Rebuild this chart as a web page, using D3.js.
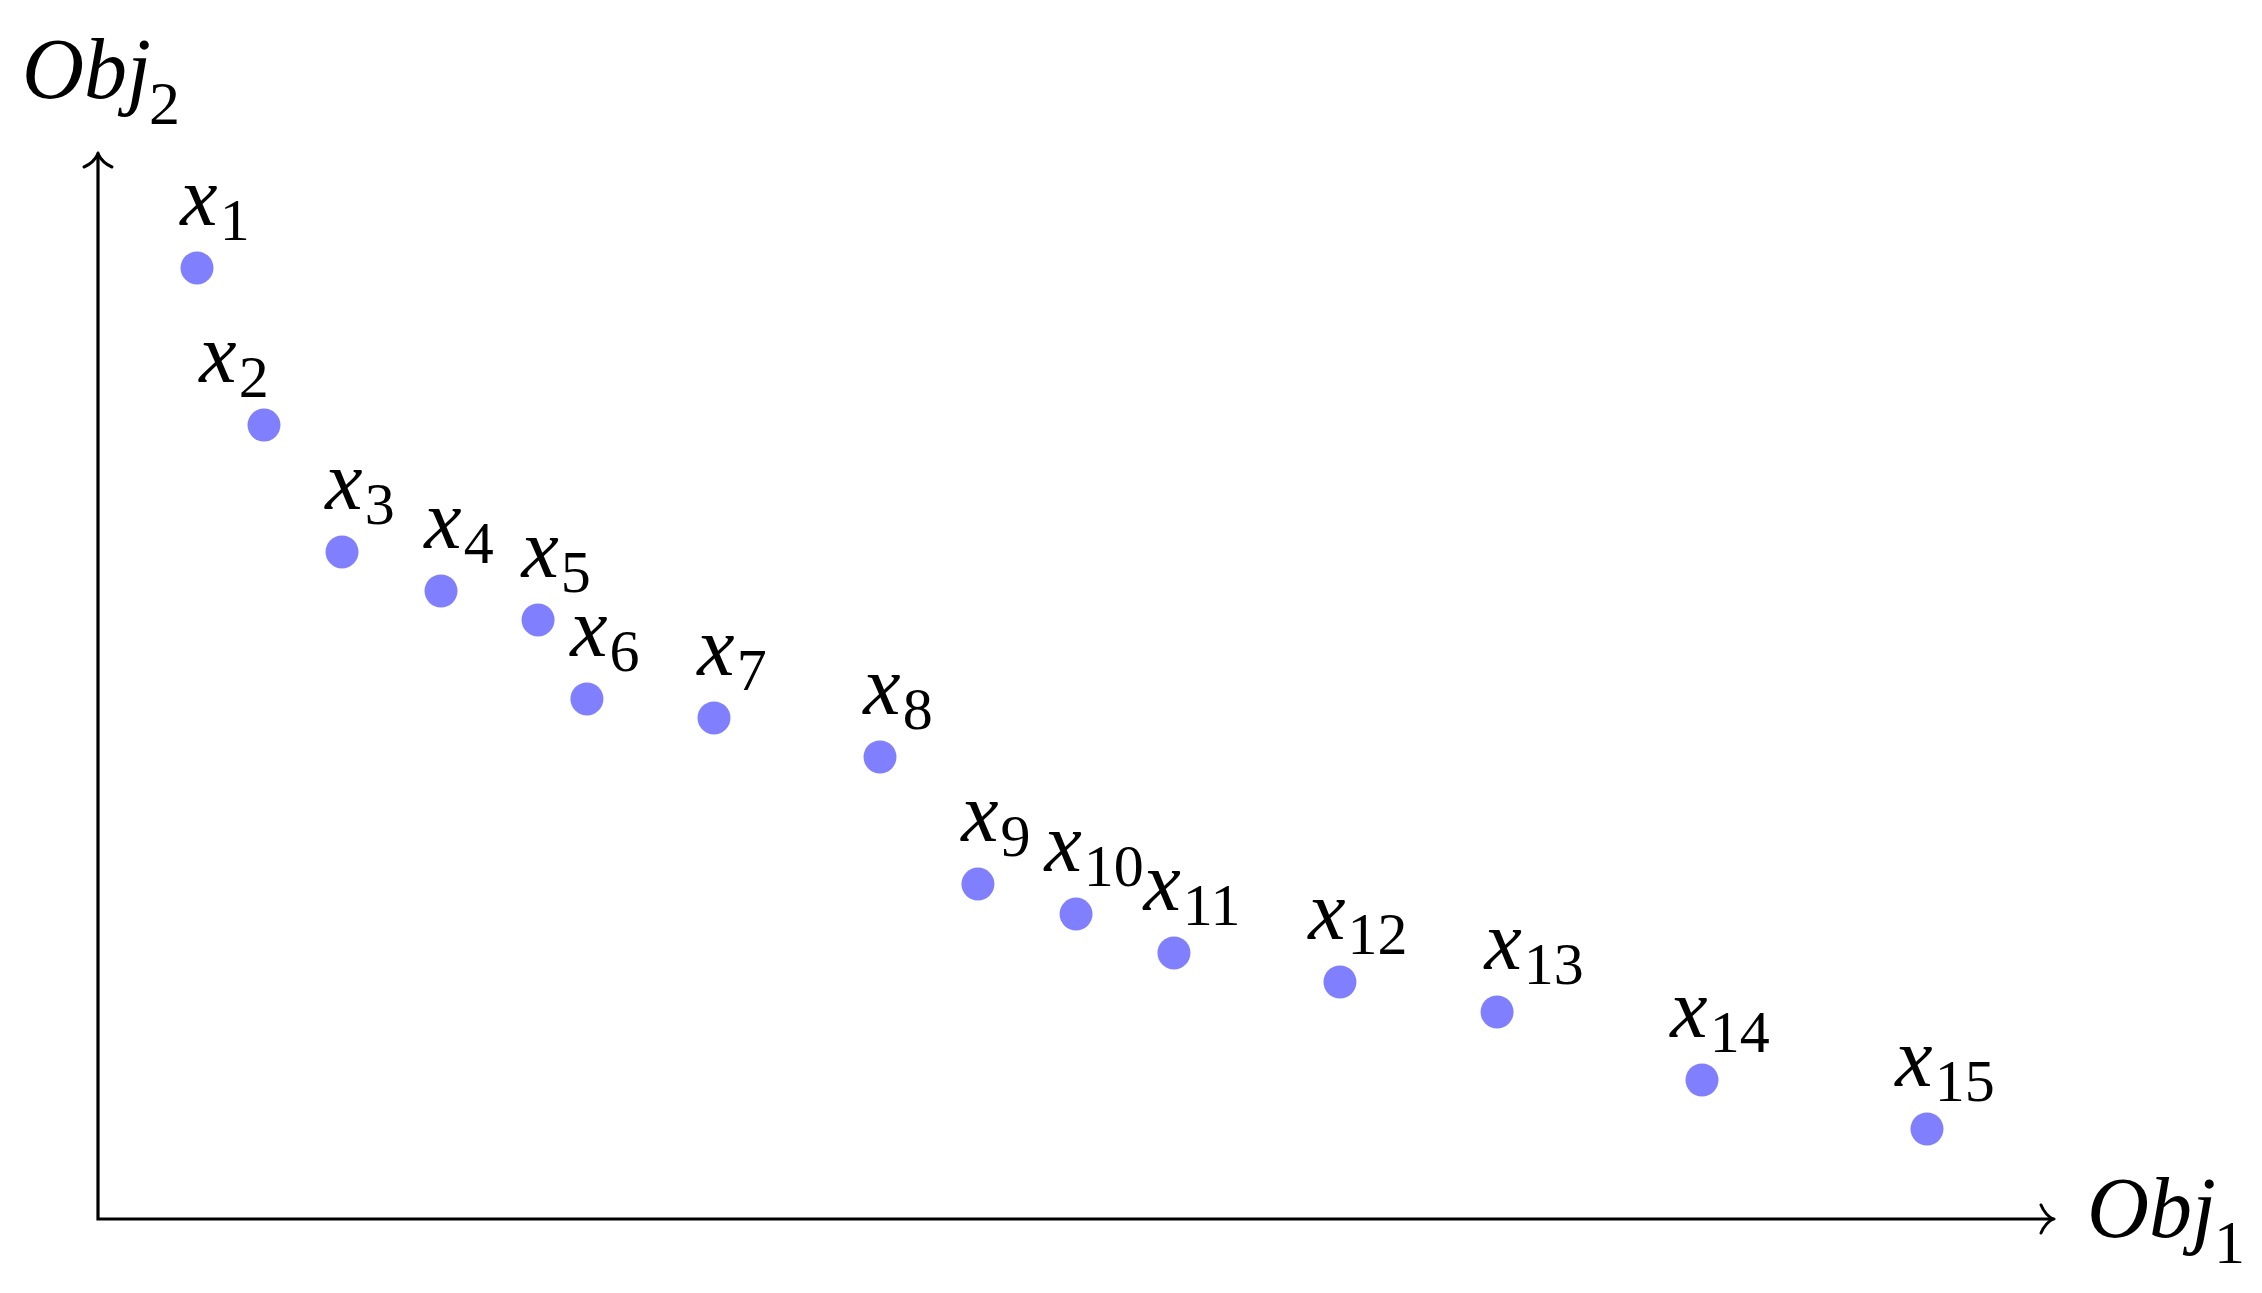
<!DOCTYPE html>
<html>
<head>
<meta charset="utf-8">
<script src="https://cdn.jsdelivr.net/npm/d3@7"></script>
<style>
  html, body { margin: 0; padding: 0; background: #fff; }
  svg { display: block; }
</style>
</head>
<body>
<script>
// ---- data ----
const names  = ["1","2","3","4","5","6","7","8","9","10","11","12","13","14","15"];
const obj1   = [0.557, 0.934, 1.373, 1.930, 2.476, 2.751, 3.466, 4.400, 4.951, 5.503, 6.054, 6.988, 7.872, 9.025, 10.291];
const obj2   = [5.358, 4.473, 3.758, 3.538, 3.375, 2.930, 2.823, 2.603, 1.887, 1.718, 1.499, 1.335, 1.166, 0.783, 0.507];
const xDomain = [0, 11];
const yDomain = [0, 6];
const xAxisName = ["Obj", "1"];
const yAxisName = ["Obj", "2"];

// ---- layout ----
const W = 2262, H = 1293;
const svg = d3.select("body").append("svg").attr("width", W).attr("height", H);

const x = d3.scaleLinear().domain(xDomain).range([98, 2053]);
const y = d3.scaleLinear().domain(yDomain).range([1219, 154]);

const labelNudge = {1: -48, 12: 19}; // per-label horizontal shift (index based)

// axes
const axisG = svg.append("g").attr("stroke", "#000").attr("stroke-width", 3.2).attr("fill", "none");
axisG.append("path")
  .attr("d", `M${x(xDomain[0])},${y(yDomain[1])} L${x(xDomain[0])},${y(yDomain[0])} L${x(xDomain[1])},${y(yDomain[0])}`)
  .attr("stroke-linejoin", "miter").attr("stroke-linecap", "square");

// arrow heads (TikZ "to" style)
const tx = x(xDomain[1]), ty = y(yDomain[0]);
axisG.append("path").attr("stroke-width", 3).attr("stroke-linecap", "round")
  .attr("d", `M${tx-12},${ty-14} C${tx-9},${ty-7} ${tx-4},${ty-2} ${tx},${ty} C${tx-4},${ty+2} ${tx-9},${ty+7} ${tx-12},${ty+14}`);
const ux = x(xDomain[0]), uy = y(yDomain[1]);
axisG.append("path").attr("stroke-width", 3).attr("stroke-linecap", "round")
  .attr("d", `M${ux-14},${uy+13} C${ux-7},${uy+10} ${ux-2},${uy+4} ${ux},${uy} C${ux+2},${uy+4} ${ux+7},${uy+10} ${ux+14},${uy+13}`);

// points
const pts = names.map((n, i) => ({n, a: obj1[i], b: obj2[i], i}));
svg.append("g").selectAll("circle").data(pts).join("circle")
  .attr("cx", d => x(d.a)).attr("cy", d => y(d.b)).attr("r", 16.5)
  .attr("fill", "#8080ff");

// point labels
const font = "'Liberation Serif', 'DejaVu Serif', serif";
const lab = svg.append("g").selectAll("text").data(pts).join("text")
  .attr("x", d => x(d.a) + 18 + (labelNudge[d.i] || 0))
  .attr("y", d => y(d.b) - 43)
  .attr("text-anchor", "middle")
  .attr("font-family", font)
  .attr("fill", "#000");
lab.append("tspan").attr("font-style", "italic").attr("font-size", 84).text("x");
lab.append("tspan").attr("font-size", 60).attr("dy", 15).attr("dx", 2).text(d => d.n);

// axis names
function axisName(px, py, parts) {
  const t = svg.append("text").attr("x", px).attr("y", py)
    .attr("font-family", font).attr("fill", "#000");
  t.append("tspan").attr("font-style", "italic").attr("font-size", 86).text(parts[0]);
  t.append("tspan").attr("font-size", 62).attr("dy", 26).attr("dx", -2).text(parts[1]);
}
axisName(22, 98, yAxisName);
axisName(2087, 1237, xAxisName);
</script>
</body>
</html>
